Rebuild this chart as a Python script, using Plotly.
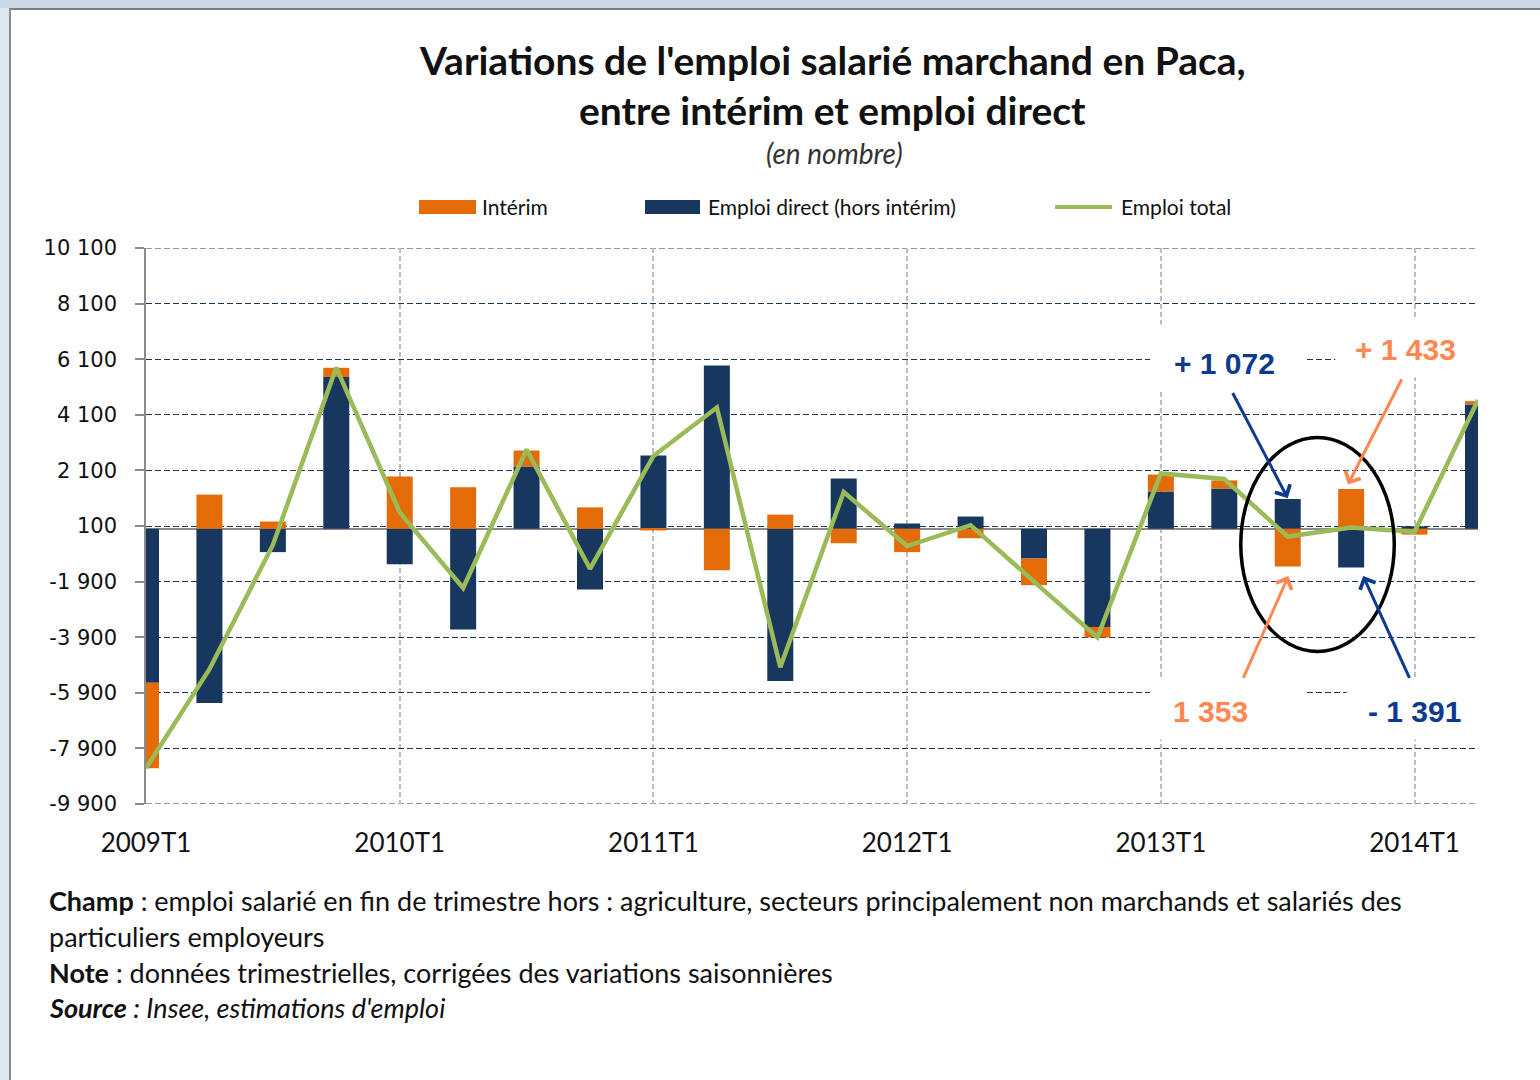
import plotly.graph_objects as go

# ---------------- data ----------------
quarters = ["2009T1", "2009T2", "2009T3", "2009T4",
            "2010T1", "2010T2", "2010T3", "2010T4",
            "2011T1", "2011T2", "2011T3", "2011T4",
            "2012T1", "2012T2", "2012T3", "2012T4",
            "2013T1", "2013T2", "2013T3", "2013T4",
            "2014T1", "2014T2"]
interim = [-3070, 1230, 260, 330, 1880, 1490, 575, 770, -60, -1490, 510, -520,
           -840, -340, -960, -380, 610, 290, -1353, 1433, -210, 120]
direct = [-5540, -6270, -840, 5460, -1280, -3620, 2240, -2180, 2640, 5870, -5480, 1810,
          190, 440, -1070, -3530, 1340, 1450, 1072, -1391, 90, 4470]
total = [-8610, -5050, -580, 5800, 590, -2130, 2850, -1440, 2620, 4360, -4980, 1320,
         -620, 130, -1900, -3910, 1990, 1790, -281, 42, -110, 4630]
ytick_vals = [-9900, -7900, -5900, -3900, -1900, 100, 2100, 4100, 6100, 8100, 10100]
ytick_text = ["-9 900", "-7 900", "-5 900", "-3 900", "-1 900", "100",
              "2 100", "4 100", "6 100", "8 100", "10 100"]
xtick_idx = [0, 4, 8, 12, 16, 20]

# ---------------- style ----------------
ORANGE = "#E36C09"
NAVY = "#17375E"
GREEN = "#9BBB59"
TXT_NAVY = "#0B3A8E"
TXT_ORANGE = "#FF8751"
W, H = 1540, 1080
L, R, T, B = 146, 1478, 248, 804


def px(xp):
    return (xp - L) / (R - L)


def py(yp):
    return (B - yp) / (B - T)


xpos = list(range(len(quarters)))

fig = go.Figure()
fig.add_trace(go.Bar(x=xpos, y=direct, name="Emploi direct (hors intérim)",
                     marker=dict(color=NAVY, line=dict(width=0)), width=0.41,
                     showlegend=False))
fig.add_trace(go.Bar(x=xpos, y=interim, name="Intérim",
                     marker=dict(color=ORANGE, line=dict(width=0)), width=0.41,
                     showlegend=False))
fig.add_trace(go.Scatter(x=xpos, y=total, name="Emploi total", mode="lines",
                         line=dict(color=GREEN, width=4.5), showlegend=False))

fig.update_layout(
    width=W, height=H,
    margin=dict(l=L, r=W - R, t=T, b=H - B),
    paper_bgcolor="white", plot_bgcolor="white",
    barmode="relative",
    font=dict(family="Lato", color="#111111"),
)
fig.update_xaxes(range=[0, len(quarters) - 1], tickmode="array", tickvals=xtick_idx,
                 ticktext=[quarters[i] for i in xtick_idx],
                 showgrid=True, gridcolor="#BDBDBD", gridwidth=2, griddash="5px,3px",
                 showline=False, zeroline=False, ticks="",
                 tickfont=dict(family="Lato", size=26, color="#111111"),
                 ticklabelstandoff=21)
fig.update_yaxes(range=[-9900, 10100], tickmode="array", tickvals=ytick_vals,
                 ticktext=ytick_text,
                 showgrid=True, gridcolor=NAVY, gridwidth=1, griddash="6px,3px",
                 showline=True, linecolor="#8C8C8C", linewidth=1.5,
                 ticks="outside", ticklen=9, tickcolor="#8C8C8C", tickwidth=1.5,
                 zeroline=True, zerolinecolor="#8C8C8C", zerolinewidth=1.5,
                 tickfont=dict(family="DejaVu Sans", size=21, color="#111111"),
                 ticklabelstandoff=14)

shapes = []
# frame of the screenshot
shapes.append(dict(type="rect", xref="paper", yref="paper", x0=px(0), x1=px(W), y0=py(0), y1=py(8),
                   fillcolor="#CCD9E3", line=dict(width=0), layer="below"))
shapes.append(dict(type="line", xref="paper", yref="paper", x0=px(9), x1=px(W), y0=py(9), y1=py(9),
                   line=dict(color="#7F7F7F", width=2)))
shapes.append(dict(type="rect", xref="paper", yref="paper", x0=px(0), x1=px(9), y0=py(H), y1=py(8),
                   fillcolor="#DCE8F0", line=dict(width=0), layer="below"))
shapes.append(dict(type="line", xref="paper", yref="paper", x0=px(10), x1=px(10), y0=py(H), y1=py(9),
                   line=dict(color="#8C8C8C", width=2)))

# grid lines at the range edges
for yv in (ytick_vals[0], ytick_vals[-1]):
    shapes.append(dict(type="line", xref="paper", yref="y", x0=0, x1=1, y0=yv, y1=yv,
                       line=dict(color=NAVY, width=1, dash="6px,3px"), layer="below"))

# white label boxes hiding the grid
for (x0, x1, y0, y1) in [(15.83, 18.26, 4940, 7350), (18.75, 21.0, 5440, 7530),
                         (15.83, 18.26, -7580, -5420), (18.93, 21.0, -7580, -5420)]:
    shapes.append(dict(type="rect", xref="x", yref="y", x0=x0, x1=x1, y0=y0, y1=y1,
                       fillcolor="white", line=dict(width=0), layer="between"))

# ellipse
shapes.append(dict(type="circle", xref="x", yref="y", x0=17.26, x1=19.68, y0=-4414, y1=3284,
                   line=dict(color="black", width=3.5), layer="above"))

# manual legend
shapes.append(dict(type="rect", xref="paper", yref="paper", x0=px(419), x1=px(476), y0=py(214), y1=py(200),
                   fillcolor=ORANGE, line=dict(width=0)))
shapes.append(dict(type="rect", xref="paper", yref="paper", x0=px(645), x1=px(700), y0=py(214), y1=py(200),
                   fillcolor=NAVY, line=dict(width=0)))
shapes.append(dict(type="line", xref="paper", yref="paper", x0=px(1055), x1=px(1112), y0=py(207), y1=py(207),
                   line=dict(color=GREEN, width=4)))
fig.update_layout(shapes=shapes)

ann = []
leg_font = dict(family="Lato", size=21, color="#111111")
for xx, txt in [(480, "Intérim"), (706, "Emploi direct (hors intérim)"), (1119, "Emploi total")]:
    ann.append(dict(xref="paper", yref="paper", x=px(xx), y=py(206), text=txt, showarrow=False,
                    xanchor="left", yanchor="middle", font=leg_font))

# titles
ann.append(dict(xref="paper", yref="paper", x=px(833), y=py(60),
                text="<b>Variations de l'emploi salarié marchand en Paca,</b>", showarrow=False,
                xanchor="center", yanchor="middle", font=dict(family="Lato", size=39, color="#111111")))
ann.append(dict(xref="paper", yref="paper", x=px(833), y=py(110),
                text="<b>entre intérim et emploi direct</b>", showarrow=False,
                xanchor="center", yanchor="middle", font=dict(family="Lato", size=39, color="#111111")))
ann.append(dict(xref="paper", yref="paper", x=px(834), y=py(153),
                text="<i>(en nombre)</i>", showarrow=False,
                xanchor="center", yanchor="middle", font=dict(family="Lato", size=28, color="#333333")))

# footnotes
foot = ["<b>Champ</b> : emploi salarié en fin de trimestre hors : agriculture, secteurs principalement non marchands et salariés des",
        "particuliers employeurs",
        "<b>Note</b> : données trimestrielles, corrigées des variations saisonnières",
        "<b><i>Source</i></b><i> : Insee, estimations d'emploi</i>"]
for yy, txt in zip([900, 936, 972, 1007], foot):
    ann.append(dict(xref="paper", yref="paper", x=px(47), y=py(yy), text=txt, showarrow=False,
                    xanchor="left", yanchor="middle", font=dict(family="Lato", size=27, color="#111111")))

# highlighted values
num_font = dict(family="Liberation Sans, Arial", size=30)
ann.append(dict(x=17.01, y=5946, xref="x", yref="y", text="<b>+ 1 072</b>", showarrow=False,
                font=dict(color=TXT_NAVY, **num_font)))
ann.append(dict(x=19.86, y=6450, xref="x", yref="y", text="<b>+ 1 433</b>", showarrow=False,
                font=dict(color=TXT_ORANGE, **num_font)))
ann.append(dict(x=16.79, y=-6572, xref="x", yref="y", text="<b>1 353</b>", showarrow=False,
                font=dict(color=TXT_ORANGE, **num_font)))
ann.append(dict(x=20.0, y=-6572, xref="x", yref="y", text="<b>- 1 391</b>", showarrow=False,
                font=dict(color=TXT_NAVY, **num_font)))

# arrows (tips on the bars)
arrow_common = dict(xref="x", yref="y", axref="x", ayref="y", text="", showarrow=True,
                    arrowhead=4, arrowsize=1.1, arrowwidth=3)
ann.append(dict(x=18.0, y=direct[18] + 30, ax=17.12, ay=4939, arrowcolor=TXT_NAVY, **arrow_common))
ann.append(dict(x=18.95, y=interim[19] + 160, ax=19.81, ay=5431, arrowcolor=TXT_ORANGE, **arrow_common))
ann.append(dict(x=18.01, y=interim[18] - 350, ax=17.29, ay=-5421, arrowcolor=TXT_ORANGE, **arrow_common))
ann.append(dict(x=19.19, y=direct[19] - 310, ax=19.93, ay=-5421, arrowcolor=TXT_NAVY, **arrow_common))

fig.update_layout(annotations=ann)

fig.write_html("out.html", include_plotlyjs=True, config={"displayModeBar": False},
               post_script="document.body.style.margin='0';document.body.style.overflow='hidden';")
